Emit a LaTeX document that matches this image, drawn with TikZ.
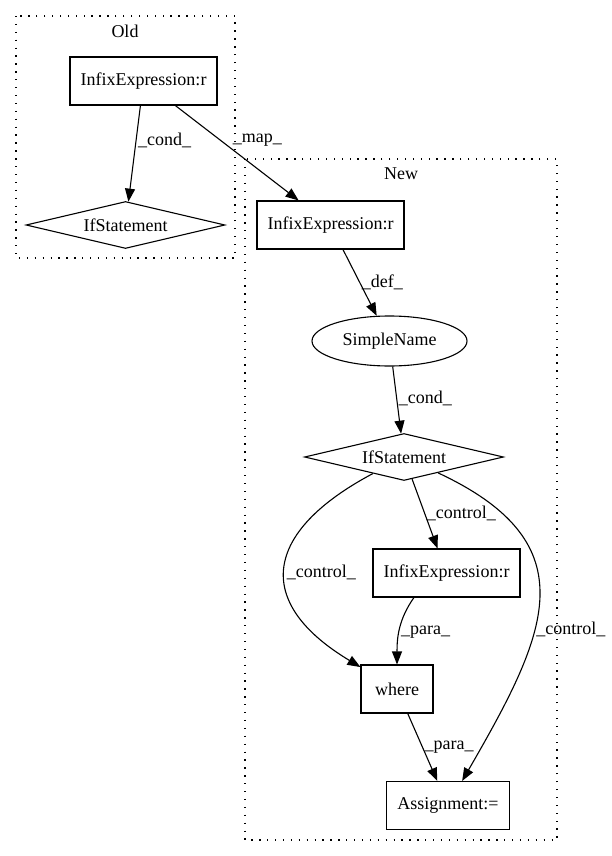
\documentclass[tikz,border=0pt]{standalone}
\usepackage{fontspec}
\setmainfont{Liberation Serif}
\usetikzlibrary{arrows.meta,positioning,shapes.geometric}

\tikzset{
  box/.style={draw,rectangle,minimum width=72pt,minimum height=48pt,inner xsep=10.5pt,inner ysep=0pt},
  cond/.style={draw,diamond,aspect=4,minimum width=199pt,minimum height=47pt,inner sep=1pt},
  var/.style={draw,ellipse,minimum width=155pt,minimum height=50pt,inner sep=0pt},
  cluster/.style={line width=1.1pt,dash pattern=on 1.3pt off 6.6pt}
}

\begin{document}
\begin{tikzpicture}[x=1pt,y=1pt,line width=1.1pt,on grid,auto,
    >={Triangle[length=13pt,width=10pt]},
    font=\fontsize{18}{22}\selectfont]
   \useasboundingbox (0,0) rectangle (611,-856);

   % clusters
   \draw[cluster] (16,-16) rectangle (235,-258);
   \node (oldTitle) at (125,-31) {Old};
   \draw[cluster] (245,-159) rectangle (557,-840);
   \node (newTitle) at (401,-174) {New};

   \node[box] (oldInfix) at (143.5,-81) {InfixExpression:r};
   \node[cond] (oldIf) [below left=144pt and 18pt of oldInfix] {IfStatement};

   \node[box] (newInfix) [below right=144pt and 187pt of oldInfix] {InfixExpression:r};
   \node[var] (simpleName) [below right=116pt and 59pt of newInfix] {SimpleName};
   \node[cond] (newIf) [below right=116pt and 14.5pt of simpleName] {IfStatement};
   \node[box] (rInfix) [below right=116pt and 42.5pt of newIf] {InfixExpression:r};
   \node[box] (where) [below left=116pt and 49.5pt of rInfix] {where};
   \node[box] (assign) [below right=116.5pt and 51pt of where] {Assignment:=};

    \path[->,nodes={inner sep=1.5pt}]
    (oldInfix) edge node[right,pos=0.36] {\_cond\_} (oldIf)
         edge node[pos=0.45] {\_map\_} (newInfix)
    (newInfix) edge node[right,pos=0.5] {\_def\_} (simpleName)
    (simpleName) edge node[right,pos=0.48] {\_cond\_} (newIf)
    (newIf) edge node[right,pos=0.5] {\_control\_} (rInfix)
         edge [out=208,in=149,looseness=1.65] node[right,pos=0.52] {\_control\_} (where)
         edge [out=-25,in=60,looseness=1.4] node[right,pos=0.6] {\_control\_} (assign)
    (rInfix.217) edge [out=235,in=90] node[right,pos=0.55] {\_para\_} (where)
    (where) edge node[right,pos=0.5] {\_para\_} (assign);
\end{tikzpicture}
\end{document}
